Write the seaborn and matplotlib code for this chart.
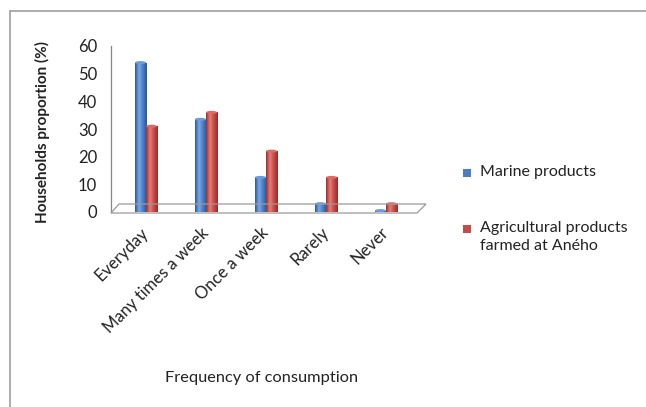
import numpy as np
import pandas as pd
import matplotlib
matplotlib.use("Agg")
import matplotlib.pyplot as plt
import seaborn as sns
from matplotlib.colors import LinearSegmentedColormap
from matplotlib.patches import Polygon, Ellipse, Rectangle
from matplotlib.lines import Line2D

# Share of households by frequency of consumption (%)
categories = ["Everyday", "Many times a week", "Once a week", "Rarely", "Never"]
marine = [54.0, 33.5, 12.5, 3.0, 0.5]
agricultural = [31.0, 36.0, 22.0, 12.5, 3.0]
series_names = ["Marine products", "Agricultural products\nfarmed at Aného"]
y_ticks = [0, 10, 20, 30, 40, 50, 60]

df = pd.DataFrame({
    "Frequency": categories * 2,
    "Proportion": marine + agricultural,
    "Product": [series_names[0]] * len(categories) + [series_names[1]] * len(categories),
})

sns.set_style("white")
plt.rcParams["font.family"] = ["Lato", "DejaVu Sans"]

W, H = 646, 407
fig = plt.figure(figsize=(W / 100, H / 100), dpi=100)
ax = fig.add_axes([111 / W, 1 - 212 / H, 310 / W, 166 / H])

base_colors = ["#4A7EC4", "#C64A48"]
palette = dict(zip(series_names, base_colors))
sns.barplot(data=df, x="Frequency", y="Proportion", hue="Product",
            palette=palette, width=0.37, gap=0, saturation=1,
            edgecolor="none", legend=False, ax=ax, zorder=3)

# cylinder-like shading for each bar
shades = {
    base_colors[0]: LinearSegmentedColormap.from_list(
        "blue_bar", ["#2C5896", "#78A8E8", "#4A7EC4", "#2A5592"]),
    base_colors[1]: LinearSegmentedColormap.from_list(
        "red_bar", ["#9A2F2D", "#E87C78", "#C64A48", "#962C2A"]),
}
cap_colors = {base_colors[0]: "#6C9BDB", base_colors[1]: "#DC6A66"}
grad = np.linspace(0, 1, 64).reshape(1, -1)
bars = [p for p in ax.patches if isinstance(p, Rectangle)]
for i, bar in enumerate(bars):
    key = base_colors[0] if i < len(categories) else base_colors[1]
    x0, y0 = bar.get_x(), bar.get_y()
    w, h = bar.get_width(), bar.get_height()
    im = ax.imshow(grad, extent=[x0, x0 + w, y0, y0 + h], aspect="auto",
                   cmap=shades[key], zorder=3.5, interpolation="bilinear")
    im.set_clip_path(bar)
    ax.add_patch(Ellipse((x0 + w / 2, y0 + h), w, 1.1, facecolor=cap_colors[key],
                         edgecolor="none", zorder=3.6))

ax.set_xlim(-0.583, len(categories) - 1 + 0.583)
ax.set_ylim(0, 60)
ax.set_yticks(y_ticks)
ax.set_yticklabels([str(t) for t in y_ticks], fontsize=12, color="#222222")
ax.set_xticks(range(len(categories)))
ax.set_xticklabels(categories, fontsize=12, color="#222222", rotation=45,
                   ha="right", va="center", rotation_mode="anchor")
ax.tick_params(axis="x", length=0, pad=13)
ax.tick_params(axis="y", length=4, width=0.8, color="#868686", direction="out", pad=6)
ax.set_xlabel("")
ax.set_ylabel("")
for side in ["top", "right", "bottom"]:
    ax.spines[side].set_visible(False)
ax.spines["left"].set_color("#868686")
ax.spines["left"].set_linewidth(0.9)
ax.set_facecolor("none")

# floor of the chart
to_fig = lambda px, py: (px / W, 1 - py / H)
floor = Polygon([to_fig(111, 213), to_fig(119, 204), to_fig(426, 204), to_fig(417, 213)],
                closed=True, facecolor="none", edgecolor="#9A9A9A", linewidth=0.9,
                transform=fig.transFigure, zorder=1)
fig.patches.append(floor)

# axis titles
fig.text(42 / W, 1 - 132 / H, "Households proportion (%)", rotation=90,
         ha="center", va="center", fontsize=11, fontweight="bold", color="#222222")
fig.text(262 / W, 1 - 378 / H, "Frequency of consumption", ha="center",
         va="center", fontsize=11.8, color="#222222")

# legend
legend_y = [173, 229]
for name, color, ly in zip(series_names, base_colors, legend_y):
    fig.patches.append(Rectangle(to_fig(463, ly + 4), 8 / W, 8 / H,
                                 transform=fig.transFigure, facecolor=color,
                                 edgecolor="none"))
    fig.text(480 / W, 1 - (ly - 8) / H, name, ha="left", va="top",
             fontsize=11.5, color="#222222", linespacing=1.35)

# outer frame
fig.add_artist(Line2D([10 / W, 10 / W], [0, 1 - 11 / H], color="#A6A6A6",
                      linewidth=1.3, transform=fig.transFigure))
fig.add_artist(Line2D([10 / W, 1], [1 - 11 / H, 1 - 11 / H], color="#A6A6A6",
                      linewidth=1.3, transform=fig.transFigure))

fig.savefig("out.png", dpi=100)
